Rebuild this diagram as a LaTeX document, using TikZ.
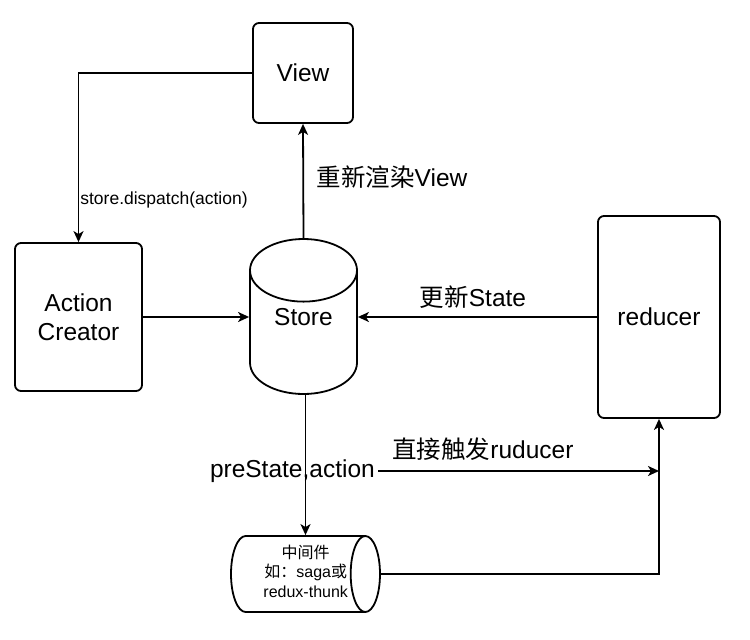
\documentclass[tikz,border=0pt]{standalone}
\usepackage{fontspec}
\setmainfont{Liberation Sans}
\newfontfamily\cjk{Noto Sans CJK SC}
\usetikzlibrary{shapes.geometric,arrows.meta}
\newcommand{\zh}[1]{{\cjk #1}}
\newcommand{\bigtxt}{\fontsize{24.5}{29}\selectfont}

\tikzset{
  box/.style={draw,rounded corners=6pt,line width=1.8pt,align=center,font=\bigtxt},
  db/.style={draw,cylinder,line width=1.8pt,anchor=shape center},
  link/.style={line width=1.8pt,-{Stealth[length=11pt,width=10pt,inset=3pt]}},
  lbl/.style={inner sep=3pt,font=\bigtxt},
}

\begin{document}
\begin{tikzpicture}[x=1pt,y=-1pt]
  \useasboundingbox (0,0) rectangle (750,640);
  % boxes
  \node[box,minimum width=100pt,minimum height=100pt] (view) at (303,73) {View};
  \node[box,minimum width=127pt,minimum height=148pt] (creator) at (78.5,317) {Action\\Creator};
  \node[box,minimum width=122pt,minimum height=202pt] (reducer) at (659,317) {reducer};
  % cylinders
  \node[db,shape border rotate=90,aspect=0.96,minimum width=107pt,minimum height=155pt,
    font=\bigtxt,text height=18pt,text depth=44pt] (store) at (303.5,316.5) {Store};
  \node[db,aspect=0.45,minimum width=76pt,minimum height=149pt,inner xsep=2pt,
    font=\fontsize{16}{19.5}\selectfont] (mid) at (305.5,574)
    {\kern11pt\begin{tabular}{@{}c@{}}\zh{中间件}\\\zh{如：}saga\zh{或}\\redux-thunk\end{tabular}\kern-11pt};

  % labels
  \node[lbl,font=\fontsize{17.5}{21}\selectfont] (dispatch) at (164,200) {store.dispatch(action)};
  \node[lbl] (render) at (392,177) {\zh{重新渲染}View};
  \node[lbl] (update) at (473,297) {\zh{更新}State};
  \node[lbl] (direct) at (483,449) {\zh{直接触发}ruducer};
  \node[lbl,anchor=east] (pre) at (378,471) {preState,action};

  % connectors
  \draw[link] (view.west) -| (creator.north);
  \draw[link] (store.north) -- (view.south);
  \draw[link] (creator.east) -- (creator.east -| store.west);
  \draw[link] (reducer.west) -- (reducer.west -| store.east);
  \draw[link] (store.south -| mid.shape center) -- (mid.north -| mid.shape center);
  \draw[link] (pre.east) -- (pre.east -| reducer.south);
  \draw[link] (mid.east) -| (reducer.south);
\end{tikzpicture}
\end{document}
